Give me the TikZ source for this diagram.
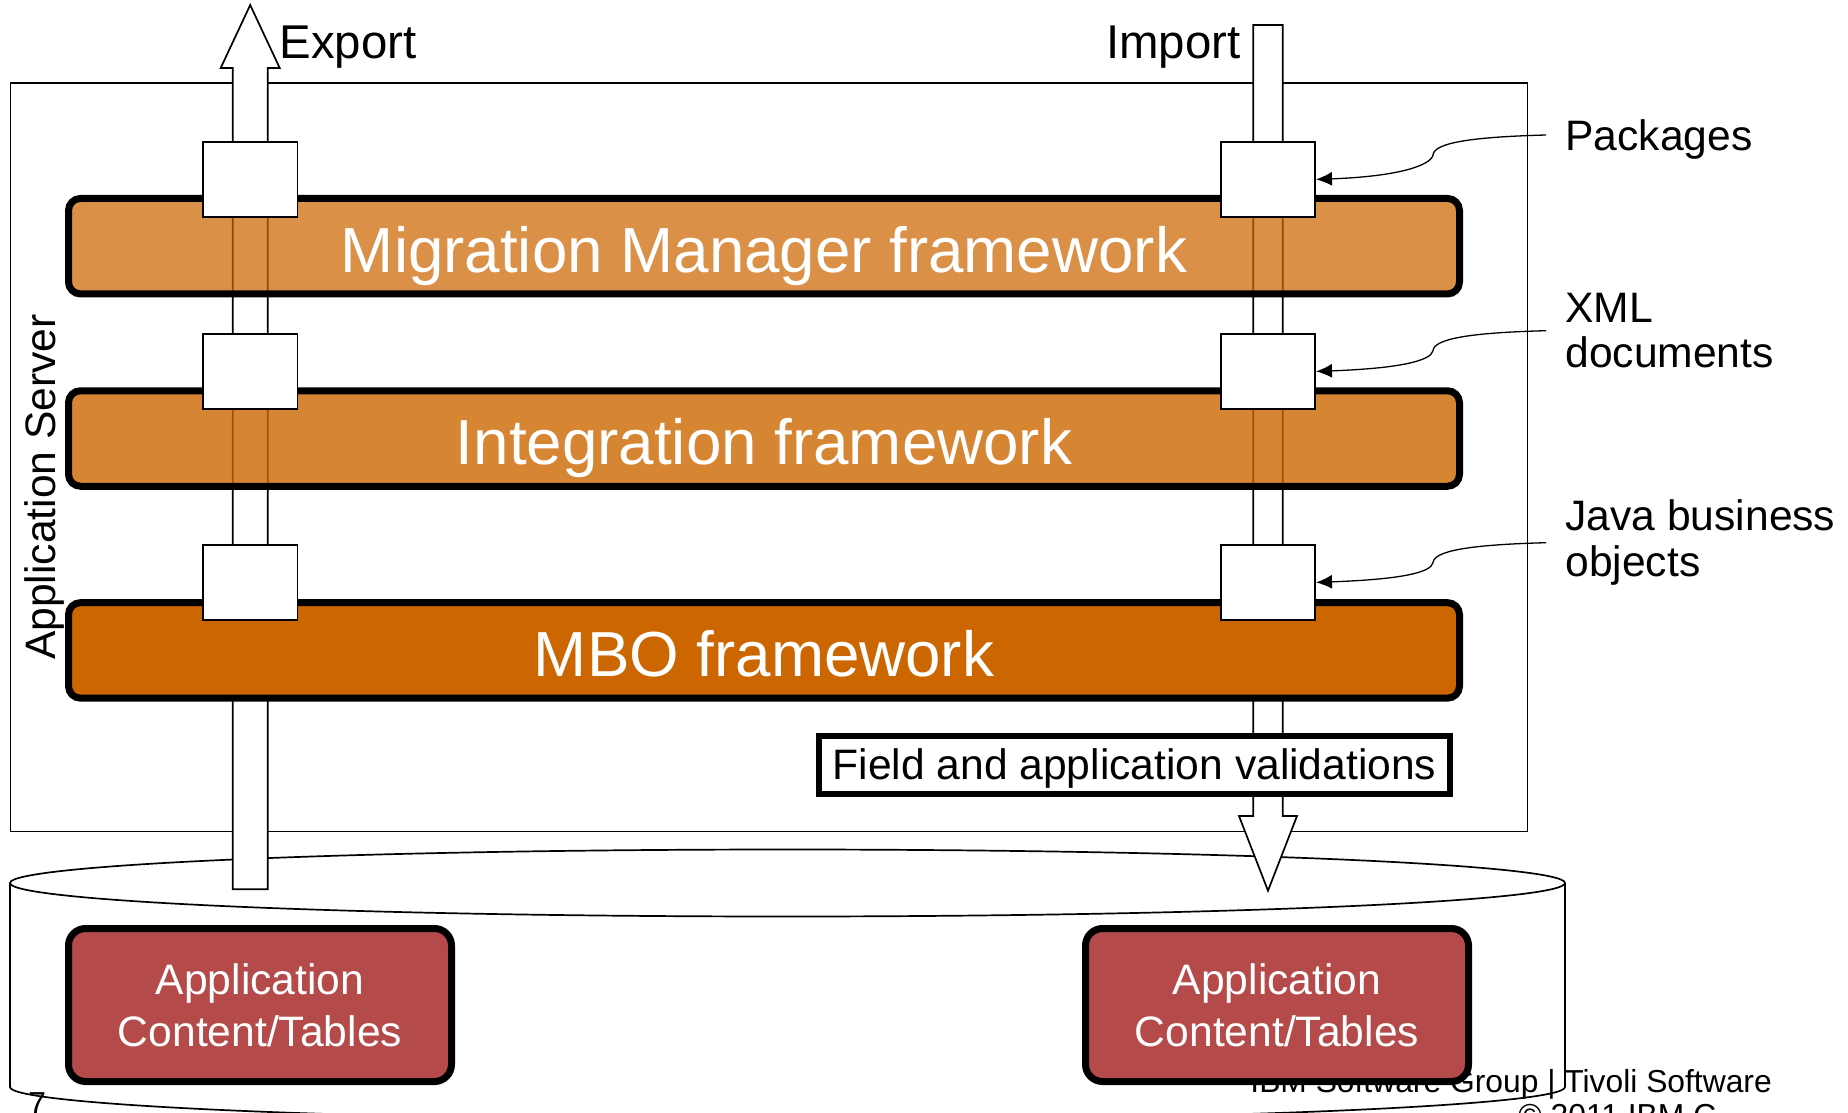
\documentclass[tikz,border=0pt]{standalone}
\usepackage{fontspec}
\setmainfont{Liberation Sans}
\usetikzlibrary{arrows.meta}

\definecolor{ibmorange}{HTML}{CC6600}
\definecolor{tablered}{HTML}{B54A4A}

\def\bigfont{\fontsize{23.7pt}{28pt}\selectfont}
\def\layerfont{\fontsize{31.85pt}{36pt}\selectfont}
\def\notefont{\fontsize{21.3pt}{22.8pt}\selectfont}
\def\tabfont{\fontsize{21.3pt}{26pt}\selectfont}
\def\footfont{\fontsize{15.9pt}{18pt}\selectfont}

\begin{document}
\begin{tikzpicture}[x=0.5pt, y=-0.5pt]
    \tikzstyle{layer}=[draw=black, line width=3.5pt, fill=ibmorange, rounded corners=6pt, text opacity=1,
        minimum width=695.5pt, minimum height=47.75pt, text=white, font=\layerfont, text height=25.8pt, text depth=0pt]
    \tikzstyle{store}=[draw=black, line width=3.5pt, fill=tablered, rounded corners=8.5pt,
        minimum width=191.5pt, minimum height=76.5pt, text=white, font=\tabfont, align=center]
    \tikzstyle{doc}=[draw=black, line width=0.85pt, fill=white, minimum width=47.15pt, minimum height=37.65pt, inner sep=0pt]
    \tikzstyle{check}=[draw=black, line width=3pt, fill=white, minimum width=315.85pt, minimum height=28.7pt,
        font=\notefont, text height=14.3pt, text depth=0pt]
    \tikzstyle{note}=[font=\notefont, align=left, inner sep=0pt, anchor=west]
    \tikzstyle{flow}=[draw=black, line width=0.85pt, fill=white]
    \tikzstyle{leader}=[line width=0.65pt, -{Latex[length=8pt,width=7pt]}]

    \useasboundingbox (0,0) rectangle (1848,1113);

    % slide footer, lies under everything
    \node[anchor=base west, inner sep=0pt, font=\footfont] (grp) at (1250,1092) {IBM Software Group | Tivoli Software};
    \node[anchor=base west, inner sep=0pt, font=\footfont] (copy) at (1518,1126) {\textcopyright{} 2011 IBM C};
    \node[anchor=base west, inner sep=0pt, font=\footfont] (pg) at (28,1114) {7};

    % Application server frame and the database
    \draw[line width=0.85pt] (10.6,82.7) rectangle (1527.5,831.5);
    \draw[line width=0.85pt] (787.5,883) ellipse [x radius=388.75pt, y radius=16.75pt];
    \draw[line width=0.85pt] (10,883) -- (10,1087)
        arc [start angle=180, end angle=360, x radius=388.75pt, y radius=16.75pt] -- (1565,883);

    \node[store] (tab-ex) at (260,1005) {Application\\Content/Tables};
    \node[store] (tab-im) at (1277,1005) {Application\\Content/Tables};

    % Export and import arrows
    \draw[flow] (232.7,889.3) -- (232.7,68) -- (220.7,68) -- (250.2,5) -- (279.7,68) -- (267.7,68) -- (267.7,889.3) -- cycle;
    \draw[flow] (1253.3,25) -- (1282.7,25) -- (1282.7,816) -- (1297,816) -- (1268,890.7) -- (1239,816) -- (1253.3,816) -- cycle;

    % the three frameworks
    \node[layer, fill opacity=0.72] (MM) at (764,246.2) {Migration Manager framework};
    \node[layer, fill opacity=0.8] (IF) at (764,438.5) {Integration framework};
    \node[layer] (MBO) at (764,650.4) {MBO framework};

    \node[check] (val) at (1134.5,765) {Field and application validations};

    % data passed between the layers
    \foreach \name / \y in {1/179.4, 2/371.4, 3/582.4} {
        \node[doc] (Ex-\name) at (250.2,\y) {};
        \node[doc] (Im-\name) at (1268,\y) {};
    }

    % Annotate
    \node[note] (pkg) at (1565,135) [text depth=0pt] {Packages};
    \node[note] (xml) at (1565,330.7) {XML\\documents};
    \node[note] (jbo) at (1565,542.7) {Java business\\objects};

    \foreach \name / \lab in {1/pkg, 2/xml, 3/jbo}
        \draw[leader] ([shift={(-19,0)}]\lab.west) .. controls +(-76,2) and +(1,-12) .. ++(-113,20)
            .. controls +(-2,10) and +(84,-3) .. (Im-\name.east);

    \node[anchor=base west, inner sep=0pt, font=\bigfont] (exp) at (279,59) {Export};
    \node[anchor=base east, inner sep=0pt, font=\bigfont] (imp) at (1241,59) {Import};
    \node[rotate=90, anchor=base, inner sep=0pt, font=\notefont] (srv) at (55.4,487) {Application Server};
\end{tikzpicture}
\end{document}
